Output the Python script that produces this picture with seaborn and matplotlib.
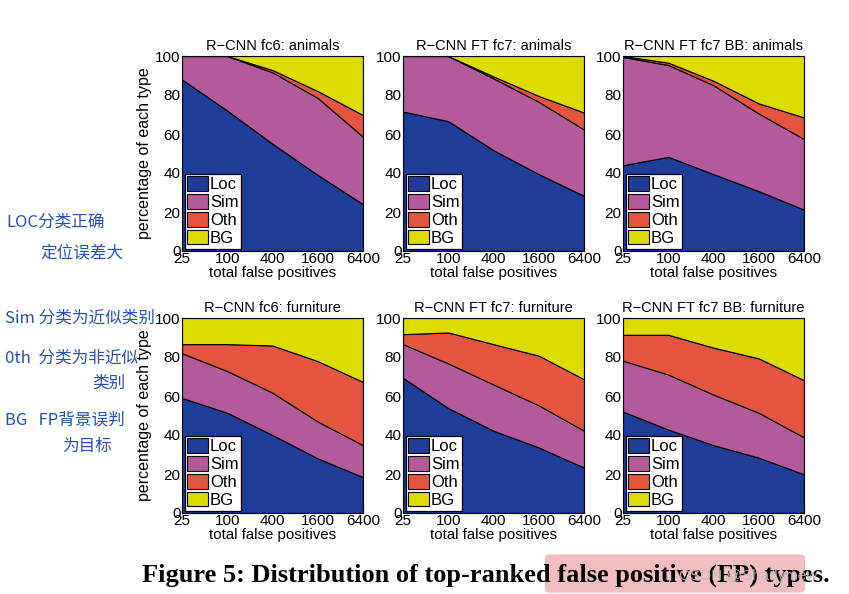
import matplotlib
matplotlib.use("Agg")
import matplotlib.pyplot as plt
import seaborn as sns
from matplotlib.patches import Patch, FancyBboxPatch

sns.set_style("ticks")
plt.rcParams["font.family"] = ["Liberation Sans", "DejaVu Sans"]
plt.rcParams["text.color"] = "black"
plt.rcParams["axes.labelcolor"] = "black"

# ----------------------------
# Data (cumulative boundaries, in %)
# ----------------------------
fp_totals = [25, 100, 400, 1600, 6400]
tick_labels = ["25", "100", "400", "1600", "6400"]
types = ["Loc", "Sim", "Oth", "BG"]
colors = ["#1F3C98", "#B35A9B", "#E45541", "#DCDC00"]

titles = [
    "R\u2212CNN fc6: animals",
    "R\u2212CNN FT fc7: animals",
    "R\u2212CNN FT fc7 BB: animals",
    "R\u2212CNN fc6: furniture",
    "R\u2212CNN FT fc7: furniture",
    "R\u2212CNN FT fc7 BB: furniture",
]

# top edge of Loc, Loc+Sim, Loc+Sim+Oth (BG fills up to 100)
loc_top = [
    [88, 72, 55, 39, 24],
    [71.5, 66.6, 51.7, 39.4, 28.3],
    [44, 48.3, 39.4, 30.7, 21.2],
    [59, 51.4, 40, 28, 18.4],
    [69.3, 53.8, 42.2, 33.6, 23.3],
    [52, 42.8, 34.8, 28.4, 19.8],
]
sim_top = [
    [100, 100, 91.6, 78.5, 58.6],
    [100, 100, 88.5, 76.5, 62.3],
    [99.5, 95.4, 85, 70.5, 57.4],
    [81.9, 72.8, 61.7, 46.9, 34.8],
    [86.6, 76.7, 65.9, 55.2, 42.2],
    [78.1, 71, 60.7, 51.4, 38.8],
]
oth_top = [
    [100, 100, 92.8, 82, 69.7],
    [100, 100, 89.5, 79.5, 71],
    [100, 96.6, 87.3, 75.7, 68.5],
    [86.6, 86.6, 85.9, 77.9, 67.2],
    [91.7, 92.6, 86.6, 80.7, 68.6],
    [91.4, 91.4, 84.8, 79.3, 68.1],
]

fig = plt.figure(figsize=(8.49, 5.94), dpi=100)
W, H = 849, 594
col_left = [182, 403, 623]
row_top = [56, 318]
ax_w, ax_h = 181, 195

for i in range(6):
    r, c = divmod(i, 3)
    ax = fig.add_axes([col_left[c] / W, (H - row_top[r] - ax_h) / H, ax_w / W, ax_h / H])
    layers = [
        loc_top[i],
        [s - l for s, l in zip(sim_top[i], loc_top[i])],
        [o - s for o, s in zip(oth_top[i], sim_top[i])],
        [100 - o for o in oth_top[i]],
    ]
    ax.stackplot(fp_totals, layers, colors=colors, edgecolor="black", linewidth=0.8)
    ax.set_xscale("log")
    ax.set_xlim(25, 6400)
    ax.set_ylim(0, 100)
    ax.set_xticks(fp_totals)
    ax.set_xticklabels(tick_labels)
    ax.minorticks_off()
    ax.set_yticks([0, 20, 40, 60, 80, 100])
    ax.tick_params(direction="in", length=3, labelsize=11, pad=1, colors="black")
    for sp in ax.spines.values():
        sp.set_linewidth(0.8)
        sp.set_color("black")
    ax.set_title(titles[i], fontsize=10.5, pad=4, color="black")
    ax.set_xlabel("total false positives", fontsize=10.8, labelpad=0)
    if c == 0:
        ax.set_ylabel("percentage of each type", fontsize=11.5, labelpad=2)
    handles = [Patch(facecolor=col, edgecolor="black", linewidth=0.8) for col in colors]
    leg = ax.legend(handles, types, loc="lower left", fontsize=12, frameon=True,
                    fancybox=False, edgecolor="black", framealpha=1,
                    borderaxespad=0.15, borderpad=0.15, labelspacing=0.12,
                    handlelength=1.25, handleheight=0.95, handletextpad=0.12)
    leg.get_frame().set_linewidth(0.9)

# handwritten notes on the left
note_kw = dict(color="#2650B8", fontsize=12, family=["Noto Sans CJK SC", "DejaVu Sans"])
fig.text(6 / W, 1 - 222 / H, "LOC分类正确", va="center", **note_kw)
fig.text(40 / W, 1 - 253 / H, "定位误差大", va="center", **note_kw)
fig.text(5 / W, 1 - 318 / H, "Sim 分类为近似类别", va="center", **note_kw)
fig.text(5 / W, 1 - 358 / H, "0th  分类为非近似", va="center", **note_kw)
fig.text(92 / W, 1 - 383 / H, "类别", va="center", **note_kw)
fig.text(5 / W, 1 - 420 / H, "BG   FP背景误判", va="center", **note_kw)
fig.text(62 / W, 1 - 446 / H, "为目标", va="center", **note_kw)

# caption with highlight + watermark
hl = FancyBboxPatch((550 / W, 1 - 589 / H), 250 / W, 31 / H,
                    boxstyle="round,pad=0.006", transform=fig.transFigure,
                    facecolor="#EFA3A8", edgecolor="none", alpha=0.7, zorder=0)
fig.patches.append(hl)
fig.text(486 / W, 1 - 575 / H, "Figure 5: Distribution of top-ranked false positive (FP) types.",
         ha="center", va="center", fontsize=19, fontweight="bold", color="black",
         family=["Liberation Serif", "DejaVu Serif"])
fig.text(748 / W, 1 - 576 / H, "CSDN @Shadymew", ha="center", va="center",
         fontsize=11, color="#BDBDBD", alpha=0.9)

fig.savefig("out.png", dpi=100)
